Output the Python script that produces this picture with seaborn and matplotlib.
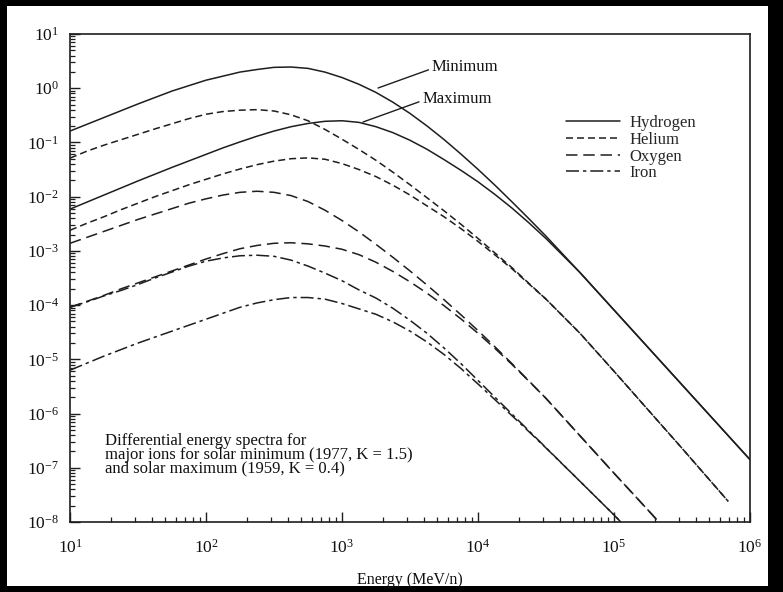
import numpy as np
import pandas as pd
import matplotlib
matplotlib.use("Agg")
import matplotlib.pyplot as plt
from matplotlib.lines import Line2D
from matplotlib.patches import Rectangle
from matplotlib.ticker import LogLocator, NullFormatter
import seaborn as sns

# ---- data: log10 energy (MeV/n) and log10 flux ----
log_energy = [1.0, 1.125, 1.25, 1.375, 1.5, 1.625, 1.75, 1.875, 2.0, 2.125,
              2.25, 2.375, 2.5, 2.625, 2.75, 2.875, 3.0, 3.125, 3.25, 3.375,
              3.5, 3.625, 3.75, 3.875, 4.0, 4.125, 4.25, 4.375, 4.5]

h_min = [-0.79, -0.665, -0.54, -0.415, -0.29, -0.171, -0.052, 0.048, 0.148, 0.223,
         0.298, 0.345, 0.385, 0.391, 0.366, 0.297, 0.197, 0.072, -0.078, -0.259,
         -0.465, -0.696, -0.946, -1.215, -1.496, -1.790, -2.096, -2.409, -2.728]
h_max = [-2.23, -2.10, -1.97, -1.84, -1.71, -1.585, -1.46, -1.34, -1.22, -1.10,
         -0.99, -0.885, -0.79, -0.71, -0.65, -0.61, -0.60, -0.63, -0.71, -0.82,
         -0.96, -1.126, -1.316, -1.515, -1.726, -1.96, -2.211, -2.484, -2.773]
h_tail_energy = [4.75, 5.0, 5.25, 5.5, 5.75, 6.0]
h_tail = [-3.40, -4.09, -4.78, -5.47, -6.16, -6.85]

he_min = [-1.29, -1.16, -1.05, -0.95, -0.85, -0.75, -0.655, -0.56, -0.48, -0.43,
          -0.405, -0.395, -0.42, -0.49, -0.60, -0.76, -0.94, -1.13, -1.33, -1.55,
          -1.78, -2.02, -2.26, -2.51, -2.77, -3.04, -3.31, -3.60, -3.89]
he_max = [-2.62, -2.49, -2.37, -2.24, -2.12, -2.00, -1.89, -1.78, -1.68, -1.58,
          -1.49, -1.41, -1.345, -1.30, -1.285, -1.31, -1.39, -1.50, -1.63, -1.79,
          -1.97, -2.17, -2.37, -2.59, -2.825, -3.075, -3.33, -3.61, -3.89]
he_tail_energy = [4.75, 5.0, 5.25, 5.5, 5.75, 5.84]
he_tail = [-4.52, -5.22, -5.93, -6.64, -7.36, -7.62]

o_min = [-2.86, -2.75, -2.64, -2.53, -2.42, -2.32, -2.22, -2.12, -2.04, -1.97,
         -1.92, -1.90, -1.92, -1.98, -2.09, -2.25, -2.44, -2.65, -2.88, -3.12,
         -3.37, -3.63, -3.90, -4.18, -4.47, -4.77, -5.08, -5.40, -5.72]
o_max = [-4.04, -3.93, -3.82, -3.70, -3.59, -3.48, -3.37, -3.26, -3.15, -3.05,
         -2.96, -2.90, -2.86, -2.85, -2.87, -2.91, -2.97, -3.07, -3.21, -3.38,
         -3.57, -3.78, -4.01, -4.255, -4.52, -4.80, -5.095, -5.405, -5.72]
o_tail_energy = [4.75, 5.0, 5.25, 5.33]
o_tail = [-6.41, -7.10, -7.78, -8.0]

fe_min = [-4.04, -3.94, -3.83, -3.73, -3.62, -3.50, -3.39, -3.28, -3.19, -3.13,
          -3.09, -3.08, -3.10, -3.17, -3.28, -3.41, -3.55, -3.72, -3.87, -4.06,
          -4.28, -4.52, -4.79, -5.08, -5.39, -5.70, -6.01, -6.32, -6.63]
fe_max = [-5.20, -5.07, -4.94, -4.82, -4.70, -4.59, -4.48, -4.37, -4.26, -4.15,
          -4.04, -3.96, -3.90, -3.86, -3.86, -3.89, -3.97, -4.07, -4.17, -4.31,
          -4.48, -4.68, -4.91, -5.17, -5.455, -5.745, -6.04, -6.335, -6.635]
fe_tail_energy = [4.75, 5.0, 5.05]
fe_tail = [-7.25, -7.87, -8.0]

ions = ["Hydrogen", "Helium", "Oxygen", "Iron"]
tick_exponents_x = [1, 2, 3, 4, 5, 6]
tick_exponents_y = [1, 0, -1, -2, -3, -4, -5, -6, -7, -8]

# ---- build long table ----
rows = []
def add(ion, cycle, logf, tail_e, tail_f):
    for lx, ly in zip(list(log_energy) + list(tail_e), list(logf) + list(tail_f)):
        rows.append({"ion": ion, "curve": f"{ion}-{cycle}",
                     "energy": 10 ** lx, "flux": 10 ** ly})

add("Hydrogen", "min", h_min, h_tail_energy, h_tail)
add("Hydrogen", "max", h_max, h_tail_energy, h_tail)
add("Helium", "min", he_min, he_tail_energy, he_tail)
add("Helium", "max", he_max, he_tail_energy, he_tail)
add("Oxygen", "min", o_min, o_tail_energy, o_tail)
add("Oxygen", "max", o_max, o_tail_energy, o_tail)
add("Iron", "min", fe_min, fe_tail_energy, fe_tail)
add("Iron", "max", fe_max, fe_tail_energy, fe_tail)
df = pd.DataFrame(rows)

# ---- style ----
sns.set_style("ticks")
plt.rcParams["font.family"] = ["Liberation Serif", "DejaVu Serif"]
plt.rcParams["mathtext.fontset"] = "custom"
plt.rcParams["mathtext.rm"] = "Liberation Serif"
plt.rcParams["mathtext.it"] = "Liberation Serif:italic"
plt.rcParams["mathtext.bf"] = "Liberation Serif:bold"

ink = "#1e1e1e"
txt = "#111111"
lw = 1.1
dash_map = {"Hydrogen": "", "Helium": (4.6, 2.6), "Oxygen": (7.5, 3.8),
            "Iron": (8.5, 2.6, 2.2, 2.6)}

W, H = 783, 592
fig = plt.figure(figsize=(W / 100, H / 100), dpi=100, facecolor="black")
bg = Rectangle((7 / W, 6 / H), (768 - 7) / W, (586 - 6) / H,
               transform=fig.transFigure, facecolor="white",
               edgecolor="none", zorder=-10)
fig.add_artist(bg)
ax = fig.add_axes([70 / W, 1 - 522 / H, (750 - 70) / W, (522 - 34) / H])
ax.set_zorder(5)
ax.set_facecolor("white")

sns.lineplot(data=df, x="energy", y="flux", style="ion", units="curve",
             estimator=None, dashes=dash_map, color=ink, linewidth=lw,
             legend=False, ax=ax)

ax.set_xscale("log")
ax.set_yscale("log")
ax.set_xlim(10, 1e6)
ax.set_ylim(1e-8, 10)

ax.set_xticks([10.0 ** e for e in tick_exponents_x])
ax.set_yticks([10.0 ** e for e in tick_exponents_y])
ax.set_xticklabels([rf"$10^{{{e}}}$" for e in tick_exponents_x])
ax.set_yticklabels([rf"$10^{{{e}}}$" for e in tick_exponents_y])
ax.xaxis.set_minor_locator(LogLocator(base=10, subs=np.arange(2, 10), numticks=20))
ax.yaxis.set_minor_locator(LogLocator(base=10, subs=np.arange(2, 10), numticks=20))
ax.xaxis.set_minor_formatter(NullFormatter())
ax.yaxis.set_minor_formatter(NullFormatter())
ax.tick_params(which="major", direction="in", length=7, width=1.0, color=ink,
               labelsize=12.5, labelcolor=txt)
ax.tick_params(which="minor", direction="in", length=3.5, width=0.9, color=ink)
ax.tick_params(axis="x", which="major", pad=12)
ax.tick_params(axis="y", which="major", pad=8)
for s in ax.spines.values():
    s.set_color(ink)
    s.set_linewidth(1.2)

ax.set_xlabel("Energy (MeV/n)", fontsize=11.5, labelpad=11, color=txt)
ax.set_ylabel("")

# annotations
ax.annotate("Minimum", xy=(10 ** 3.265, 10 ** 0.004), xytext=(10 ** 3.66, 10 ** 0.39),
            fontsize=12, va="center", ha="left", color=txt,
            arrowprops=dict(arrowstyle="-", color=ink, lw=1.0, shrinkA=0, shrinkB=0,
                            relpos=(0, 0.4)))
ax.annotate("Maximum", xy=(10 ** 3.154, 10 ** -0.624), xytext=(10 ** 3.59, 10 ** -0.20),
            fontsize=12, va="center", ha="left", color=txt,
            arrowprops=dict(arrowstyle="-", color=ink, lw=1.0, shrinkA=0, shrinkB=0,
                            relpos=(0, 0.4)))

ax.text(10 ** 1.26, 10 ** -6.36,
        "Differential energy spectra for\nmajor ions for solar minimum (1977, K = 1.5)\n"
        "and solar maximum (1959, K = 0.4)",
        fontsize=12, va="top", ha="left", linespacing=0.8, color=txt)

handles = [Line2D([], [], color=ink, lw=lw,
                  linestyle="-" if dash_map[i] == "" else (0, dash_map[i]))
           for i in ions]
ax.legend(handles, ions, loc="upper left", bbox_to_anchor=(0.72, 0.847),
          frameon=False, fontsize=12, handlelength=3.25, handletextpad=0.55,
          labelspacing=0.04, borderaxespad=0)

fig.savefig("out.png", dpi=100, facecolor=fig.get_facecolor())
